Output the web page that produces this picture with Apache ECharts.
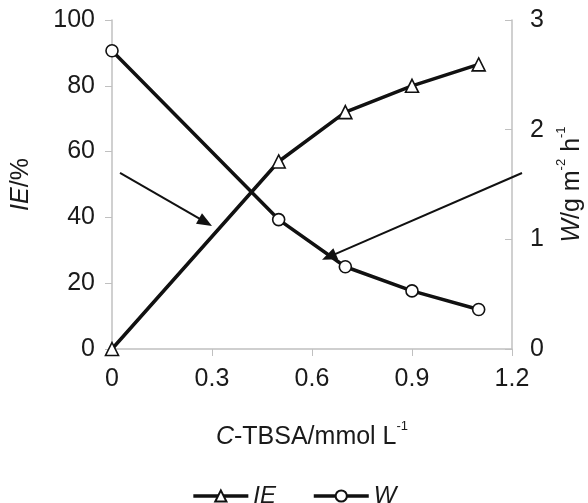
<!DOCTYPE html>
<html><head><meta charset="utf-8">
<script src="https://cdn.jsdelivr.net/npm/echarts@6/dist/echarts.min.js"></script>
<style>html,body{margin:0;padding:0;background:#fff}#c{width:588px;height:503px}</style>
</head><body><div id="c"></div>
<script>
var conc = [0, 0.5, 0.7, 0.9, 1.1];
var ieValues = [0, 57, 72, 80, 86.5];
var wValues = [2.72, 1.18, 0.75, 0.53, 0.36];
var xTicks = [0, 0.3, 0.6, 0.9, 1.2];
// arrow annotations (data coordinates on x / IE axis)
var arrowFrom = [[0.024, 53.5], [1.23, 53.5]];
var arrowTo = [[0.3, 37.4], [0.63, 27.1]];

var FONT = '"Liberation Sans", Arial, sans-serif';
var TXT = '#1a1a1a';
var AX = '#c0c0c0';
var FS = 25;

var chart = echarts.init(document.getElementById('c'), null, {renderer: 'canvas'});
var arrowData = arrowFrom.map(function (f, i) {
  return [f[0], f[1], arrowTo[i][0], arrowTo[i][1]];
});
chart.setOption({
  animation: false,
  textStyle: {fontFamily: FONT, color: TXT},
  grid: {left: 112, right: 76, top: 20, bottom: 154, containLabel: false, outerBoundsMode: 'none'},
  legend: {
    top: 479, left: 'center', itemWidth: 55, itemHeight: 14, itemGap: 36,
    lineStyle: {width: 3.5},
    textStyle: {fontFamily: FONT, fontSize: 24, fontStyle: 'italic', color: TXT},
    data: ['IE', 'W']
  },
  xAxis: {
    type: 'value', min: 0, max: 1.2, interval: 0.3,
    name: '{i|C}{n|-TBSA/mmol L}{s|-1}', nameLocation: 'middle', nameGap: 71,
    nameTextStyle: {
      rich: {
        i: {fontFamily: FONT, fontSize: FS, fontStyle: 'italic', color: TXT, lineHeight: 30, verticalAlign: 'bottom'},
        n: {fontFamily: FONT, fontSize: FS, color: TXT, lineHeight: 30, verticalAlign: 'bottom'},
        s: {fontFamily: FONT, fontSize: 13, color: TXT, lineHeight: 30, verticalAlign: 'top'}
      }
    },
    axisLine: {lineStyle: {color: AX, width: 1.5}},
    axisTick: {show: true, length: 7, lineStyle: {color: AX}},
    splitLine: {show: false},
    axisLabel: {fontFamily: FONT, fontSize: FS, color: TXT, margin: 18,
      formatter: function (v) { return String(+(+v).toFixed(1)); }}
  },
  yAxis: [{
    type: 'value', min: 0, max: 100, interval: 20,
    name: '{i|IE}{n|/%}', nameLocation: 'middle', nameGap: 78, nameRotate: 90,
    nameTextStyle: {rich: {
      i: {fontFamily: FONT, fontSize: FS, fontStyle: 'italic', color: TXT},
      n: {fontFamily: FONT, fontSize: FS, color: TXT}
    }},
    axisLine: {show: true, lineStyle: {color: AX, width: 1.5}},
    axisTick: {show: true, length: 7, lineStyle: {color: AX}},
    splitLine: {show: false},
    axisLabel: {fontFamily: FONT, fontSize: FS, color: TXT, margin: 17}
  }, {
    type: 'value', min: 0, max: 3, interval: 1, position: 'right',
    name: '{i|W}{n|/g m}{s|-2}{n| h}{s|-1}', nameLocation: 'middle', nameGap: 40, nameRotate: 90,
    nameTextStyle: {rich: {
      i: {fontFamily: FONT, fontSize: FS, fontStyle: 'italic', color: TXT, lineHeight: 30, verticalAlign: 'bottom'},
      n: {fontFamily: FONT, fontSize: FS, color: TXT, lineHeight: 30, verticalAlign: 'bottom'},
      s: {fontFamily: FONT, fontSize: 13, color: TXT, lineHeight: 30, verticalAlign: 'top'}
    }},
    axisLine: {show: true, lineStyle: {color: AX, width: 1.5}},
    axisTick: {show: true, inside: true, length: 7, lineStyle: {color: AX}},
    splitLine: {show: false},
    axisLabel: {fontFamily: FONT, fontSize: FS, color: TXT, margin: 18}
  }],
  series: [{
    name: 'IE', type: 'line', yAxisIndex: 0,
    data: conc.map(function (c, i) { return [c, ieValues[i]]; }),
    symbol: 'triangle', symbolSize: 13, showAllSymbol: true,
    lineStyle: {color: '#111', width: 3.5},
    itemStyle: {color: '#fff', borderColor: '#111', borderWidth: 1.6},
    z: 3
  }, {
    name: 'W', type: 'line', yAxisIndex: 1,
    data: conc.map(function (c, i) { return [c, wValues[i]]; }),
    symbol: 'circle', symbolSize: 12, showAllSymbol: true,
    lineStyle: {color: '#111', width: 3.5},
    itemStyle: {color: '#fff', borderColor: '#111', borderWidth: 1.6},
    z: 3
  }, {
    name: 'arrows', type: 'custom', yAxisIndex: 0, silent: true, clip: false,
    data: arrowData,
    encode: {x: [0, 2], y: [1, 3]},
    renderItem: function (params, api) {
      var p1 = api.coord([api.value(0), api.value(1)]);
      var p2 = api.coord([api.value(2), api.value(3)]);
      var dx = p2[0] - p1[0], dy = p2[1] - p1[1];
      var len = Math.sqrt(dx * dx + dy * dy);
      var ux = dx / len, uy = dy / len;
      var hl = 15, hw = 6;
      var bx = p2[0] - ux * hl, by = p2[1] - uy * hl;
      return {
        type: 'group',
        children: [{
          type: 'line',
          shape: {x1: p1[0], y1: p1[1], x2: bx + ux * 2, y2: by + uy * 2},
          style: {stroke: '#111', lineWidth: 2}
        }, {
          type: 'polygon',
          shape: {points: [
            [p2[0], p2[1]],
            [bx - uy * hw, by + ux * hw],
            [bx + uy * hw, by - ux * hw]
          ]},
          style: {fill: '#111'}
        }]
      };
    },
    z: 4
  }]
});
</script></body></html>
